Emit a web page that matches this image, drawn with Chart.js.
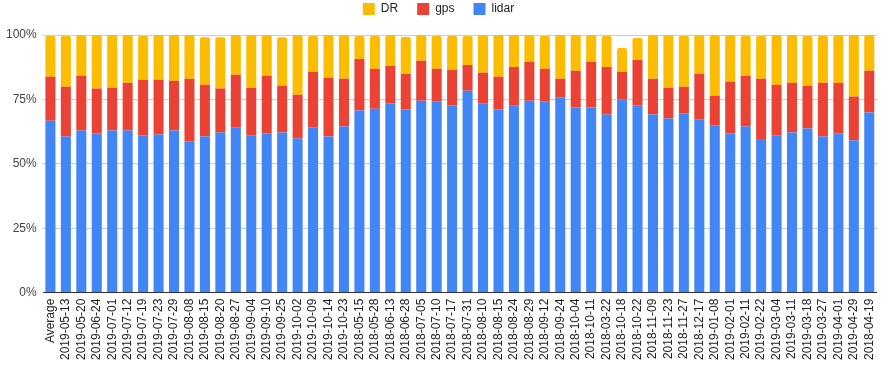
<!DOCTYPE html>
<html>
<head>
<meta charset="utf-8">
<script src="https://cdn.jsdelivr.net/npm/chart.js@4/dist/chart.umd.min.js"></script>
<style>
  html, body { margin: 0; padding: 0; background: #fff; }
  #wrap { width: 882px; height: 366px; }
</style>
</head>
<body>
<div id="wrap"><canvas id="c" width="882" height="366"></canvas></div>
<script>
const categories = [
  "Average","2019-05-13","2019-05-20","2019-06-24","2019-07-01","2019-07-12","2019-07-19","2019-07-23","2019-07-29","2019-08-08",
  "2019-08-15","2019-08-20","2019-08-27","2019-09-04","2019-09-10","2019-09-25","2019-10-02","2019-10-09","2019-10-14","2019-10-23",
  "2018-05-15","2018-05-28","2018-06-13","2018-06-28","2018-07-05","2018-07-10","2018-07-17","2018-07-31","2018-08-10","2018-08-15",
  "2018-08-24","2018-08-29","2018-09-12","2018-09-24","2018-10-04","2018-10-11","2018-03-22","2018-10-18","2018-10-22","2018-11-09",
  "2018-11-23","2018-11-27","2018-12-17","2019-01-08","2019-02-01","2019-02-11","2019-02-22","2019-03-04","2019-03-11","2019-03-18",
  "2019-03-27","2019-04-01","2019-04-29","2018-04-19"
];
const lidar = [
  66.7,60.6,62.9,61.9,62.9,62.9,61.1,61.4,62.9,58.8,
  60.6,62.2,64.2,61.1,61.9,62.2,59.8,64.2,60.6,64.5,
  70.7,71.4,73.5,71.2,74.5,74.3,72.7,78.4,73.5,71.2,
  72.7,74.5,74.3,75.8,71.9,71.9,69.1,75.0,72.7,69.1,
  67.6,69.6,67.3,65.0,61.9,64.5,59.6,61.1,62.2,63.7,
  60.6,61.9,59.1,69.9
];
const gps = [
  17.1,19.3,21.3,17.3,16.6,18.6,21.5,21.2,19.3,24.2,
  20.1,17.0,20.4,18.4,22.3,18.1,17.0,21.5,22.8,18.5,
  20.0,15.5,14.5,13.7,15.5,12.6,13.8,10.0,11.8,12.6,
  14.9,15.1,12.6,7.2,14.2,17.7,18.5,10.7,17.6,13.9,
  11.9,10.3,17.6,11.4,20.0,19.7,23.4,19.6,19.3,16.6,
  20.9,19.6,17.0,16.2
];
const dr = [
  15.8,19.7,15.7,20.8,20.5,18.5,17.0,17.4,17.8,17.0,
  18.4,19.9,15.4,20.5,15.8,18.8,23.2,13.9,16.6,17.0,
  8.9,12.7,12.0,14.3,10.0,12.7,13.1,11.2,14.7,16.2,
  12.4,10.4,12.7,17.0,13.9,10.4,12.0,9.3,8.5,17.0,
  20.5,19.7,15.1,23.6,18.1,15.4,16.6,19.3,18.5,19.3,
  18.1,18.5,23.9,13.9
];
const yTicks = [0, 25, 50, 75, 100];

const FONT = "Arial, 'Liberation Sans', sans-serif";

const legendSpace = {
  id: 'legendSpace',
  beforeInit(chart) {
    const lg = chart.legend;
    if (lg) {
      const orig = lg.fit;
      lg.fit = function () { orig.call(this); this.height += 10; };
    }
  }
};

new Chart(document.getElementById('c'), {
  type: 'bar',
  data: {
    labels: categories,
    datasets: [
      { label: 'lidar', data: lidar, backgroundColor: '#4285F4', borderWidth: 0 },
      { label: 'gps', data: gps, backgroundColor: '#EA4335', borderWidth: 0 },
      { label: 'DR', data: dr, backgroundColor: '#FBBC04', borderWidth: 0,
        borderRadius: { topLeft: 2, topRight: 2, bottomLeft: 0, bottomRight: 0 }, borderSkipped: false }
    ]
  },
  plugins: [legendSpace],
  options: {
    responsive: false,
    animation: false,
    layout: { padding: { top: -16, left: 0, right: 5, bottom: 0 } },
    datasets: { bar: { categoryPercentage: 1.0, barPercentage: 0.65 } },
    plugins: {
      tooltip: { enabled: false },
      legend: {
        position: 'top',
        reverse: true,
        labels: {
          boxWidth: 12, boxHeight: 12, padding: 19,
          color: '#222', font: { family: FONT, size: 12 }
        }
      }
    },
    scales: {
      x: {
        stacked: true,
        grid: { display: false, drawTicks: false },
        border: { display: false },
        afterFit: (axis) => { axis.paddingRight = 0; axis.paddingLeft = 0; },
        ticks: {
          autoSkip: false, maxRotation: 90, minRotation: 90, padding: 6,
          color: '#222', font: { family: FONT, size: 12 }
        }
      },
      y: {
        stacked: true,
        min: 0, max: 100,
        afterBuildTicks: (axis) => { axis.ticks = yTicks.map(v => ({ value: v })); },
        grid: {
          drawTicks: false,
          color: (ctx) => (ctx.tick && ctx.tick.value === 0) ? '#333' : '#ccc',
          lineWidth: 1
        },
        border: { display: false },
        ticks: {
          padding: 6,
          color: '#444', font: { family: FONT, size: 12 },
          callback: (v) => v + '%'
        }
      }
    }
  }
});
</script>
</body>
</html>
